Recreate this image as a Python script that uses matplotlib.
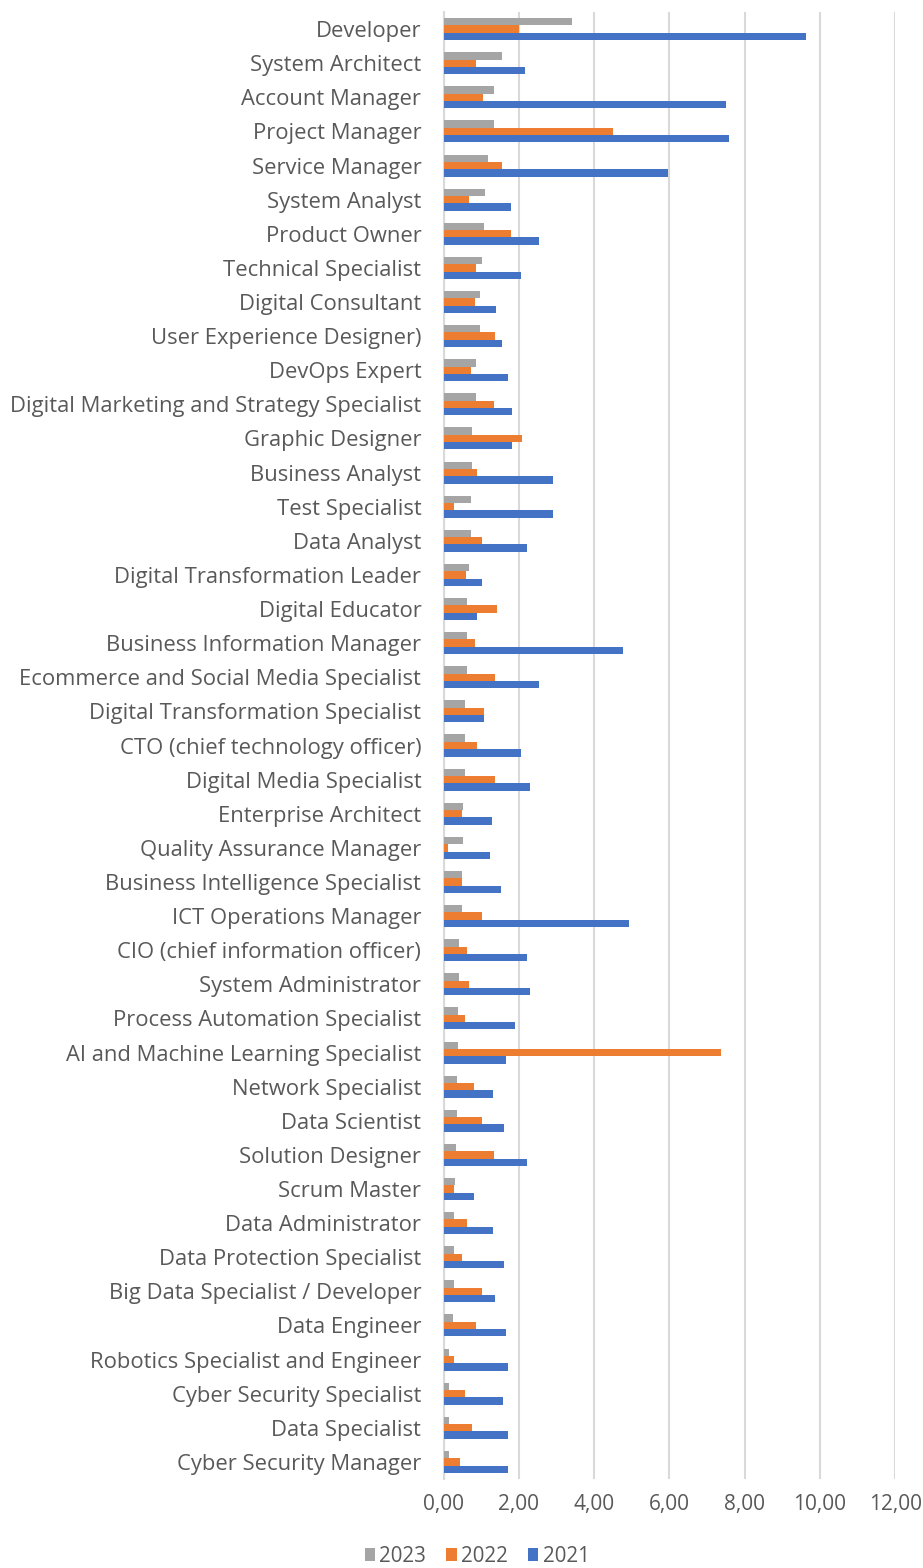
import matplotlib
matplotlib.use('Agg')
import matplotlib.pyplot as plt
import numpy as np

# job titles, top to bottom as in the chart
roles = [
    'Developer', 'System Architect', 'Account Manager', 'Project Manager',
    'Service Manager', 'System Analyst', 'Product Owner', 'Technical Specialist',
    'Digital Consultant', 'User Experience Designer)', 'DevOps Expert',
    'Digital Marketing and Strategy Specialist', 'Graphic Designer',
    'Business Analyst', 'Test Specialist', 'Data Analyst',
    'Digital Transformation Leader', 'Digital Educator',
    'Business Information Manager', 'Ecommerce and Social Media Specialist',
    'Digital Transformation Specialist', 'CTO (chief technology officer)',
    'Digital Media Specialist', 'Enterprise Architect',
    'Quality Assurance Manager', 'Business Intelligence Specialist',
    'ICT Operations Manager', 'CIO (chief information officer)',
    'System Administrator', 'Process Automation Specialist',
    'AI and Machine Learning Specialist', 'Network Specialist',
    'Data Scientist', 'Solution Designer', 'Scrum Master',
    'Data Administrator', 'Data Protection Specialist',
    'Big Data Specialist / Developer', 'Data Engineer',
    'Robotics Specialist and Engineer', 'Cyber Security Specialist',
    'Data Specialist', 'Cyber Security Manager',
]

v2023 = [3.41, 1.55, 1.34, 1.34, 1.17, 1.11, 1.08, 1.01, 0.97, 0.97, 0.85,
         0.85, 0.77, 0.77, 0.73, 0.73, 0.67, 0.63, 0.63, 0.63, 0.56, 0.56,
         0.56, 0.53, 0.53, 0.49, 0.49, 0.42, 0.42, 0.39, 0.39, 0.36, 0.36,
         0.32, 0.31, 0.29, 0.29, 0.29, 0.26, 0.15, 0.15, 0.15, 0.15]
v2022 = [2.00, 0.86, 1.04, 4.51, 1.55, 0.67, 1.79, 0.86, 0.83, 1.36, 0.73,
         1.34, 2.09, 0.90, 0.29, 1.01, 0.60, 1.41, 0.83, 1.36, 1.07, 0.90,
         1.36, 0.49, 0.12, 0.49, 1.01, 0.63, 0.67, 0.56, 7.37, 0.80, 1.01,
         1.34, 0.29, 0.63, 0.49, 1.01, 0.87, 0.29, 0.56, 0.77, 0.43]
v2021 = [9.62, 2.16, 7.50, 7.57, 5.97, 1.79, 2.54, 2.06, 1.39, 1.55, 1.72,
         1.83, 1.83, 2.90, 2.91, 2.23, 1.01, 0.90, 4.78, 2.54, 1.07, 2.06,
         2.30, 1.28, 1.24, 1.52, 4.92, 2.23, 2.30, 1.89, 1.65, 1.31, 1.62,
         2.23, 0.80, 1.31, 1.62, 1.36, 1.65, 1.72, 1.58, 1.72, 1.72]

x_ticks = [0, 2, 4, 6, 8, 10, 12]

W, H = 923, 1568
fig = plt.figure(figsize=(W / 100, H / 100), dpi=100)
ax = fig.add_axes([443.5 / W, 1 - 1479 / H, (895.3 - 443.5) / W, (1479 - 12) / H])

txt = '#595959'
font = 'Open Sans'
y = np.arange(len(roles))
h = 0.215
ax.barh(y - h, v2023, height=h, color='#A5A5A5', label='2023', zorder=3)
ax.barh(y, v2022, height=h, color='#ED7D31', label='2022', zorder=3)
ax.barh(y + h, v2021, height=h, color='#4472C4', label='2021', zorder=3)

ax.set_xlim(0, 12)
ax.set_ylim(len(roles) - 0.5, -0.5)
ax.set_xticks(x_ticks)
ax.set_xticklabels([f'{t:.2f}'.replace('.', ',') for t in x_ticks],
                   fontsize=15, color=txt, family=font)
ax.set_yticks(y)
ax.set_yticklabels(roles, fontsize=15.8, color=txt, family=font)
ax.tick_params(length=0)
ax.tick_params(axis='x', pad=11)
ax.tick_params(axis='y', pad=16)
ax.grid(axis='x', color='#D9D9D9', lw=1.5, zorder=0)
for s in ['top', 'right', 'bottom']:
    ax.spines[s].set_visible(False)
ax.spines['left'].set_color('#D9D9D9')
ax.spines['left'].set_linewidth(1.5)

leg = fig.legend(loc='center', bbox_to_anchor=(477 / W, 1 - 1556 / H), ncol=3,
                 frameon=False, handlelength=0.5, handleheight=0.6,
                 handletextpad=0.2, columnspacing=1.0,
                 prop={'family': font, 'size': 14.8})
for t in leg.get_texts():
    t.set_color(txt)

fig.savefig('out.png', dpi=100)
